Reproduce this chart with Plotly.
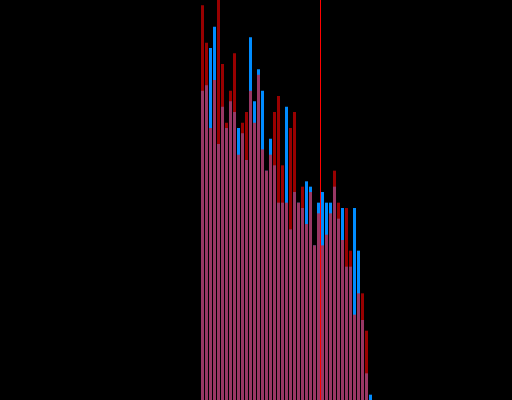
import plotly.graph_objects as go

# bin index of each bar
bins = list(range(43))

# counts per bin (blue series)
blue_counts = [58, 59, 66, 70, 48, 55, 51, 56, 54, 51, 50, 45, 68, 56, 62, 58,
               43, 49, 44, 37, 37, 55, 32, 39, 37, 36, 41, 40, 29, 37, 39, 37,
               37, 40, 34, 36, 25, 25, 36, 28, 15, 5, 1]

# counts per bin (red series)
red_counts = [74, 67, 51, 60, 78, 63, 52, 58, 65, 46, 52, 54, 58, 52, 61, 47,
              43, 46, 54, 57, 44, 37, 51, 54, 37, 40, 33, 39, 29, 35, 29, 31,
              35, 43, 37, 30, 36, 28, 16, 20, 20, 13, 0]

# position of the vertical marker line (bin units)
marker_x = 29.5

fig = go.Figure()
fig.add_trace(go.Bar(x=bins, y=blue_counts, width=0.75,
                     marker=dict(color="rgb(0,140,255)", line=dict(width=0)),
                     opacity=1.0, showlegend=False))
fig.add_trace(go.Bar(x=bins, y=red_counts, width=0.75,
                     marker=dict(color="rgb(255,0,0)", line=dict(width=0)),
                     opacity=0.6, showlegend=False))

fig.add_shape(type="line", x0=marker_x, x1=marker_x, y0=0, y1=1,
              xref="x", yref="paper", line=dict(color="rgb(255,0,0)", width=1))

fig.update_layout(
    width=512, height=400,
    margin=dict(l=0, r=0, t=0, b=0),
    paper_bgcolor="black", plot_bgcolor="black",
    barmode="overlay",
    xaxis=dict(range=[-50.625, 77.375], showgrid=False, zeroline=False,
               showticklabels=False, showline=False, ticks=""),
    yaxis=dict(range=[0, 75], showgrid=False, zeroline=False,
               showticklabels=False, showline=False, ticks=""),
)

fig.write_html(
    "out.html",
    config={"displayModeBar": False},
    post_script="document.body.style.margin='0';"
                "document.body.style.background='black';"
                "document.body.style.overflow='hidden';",
)
